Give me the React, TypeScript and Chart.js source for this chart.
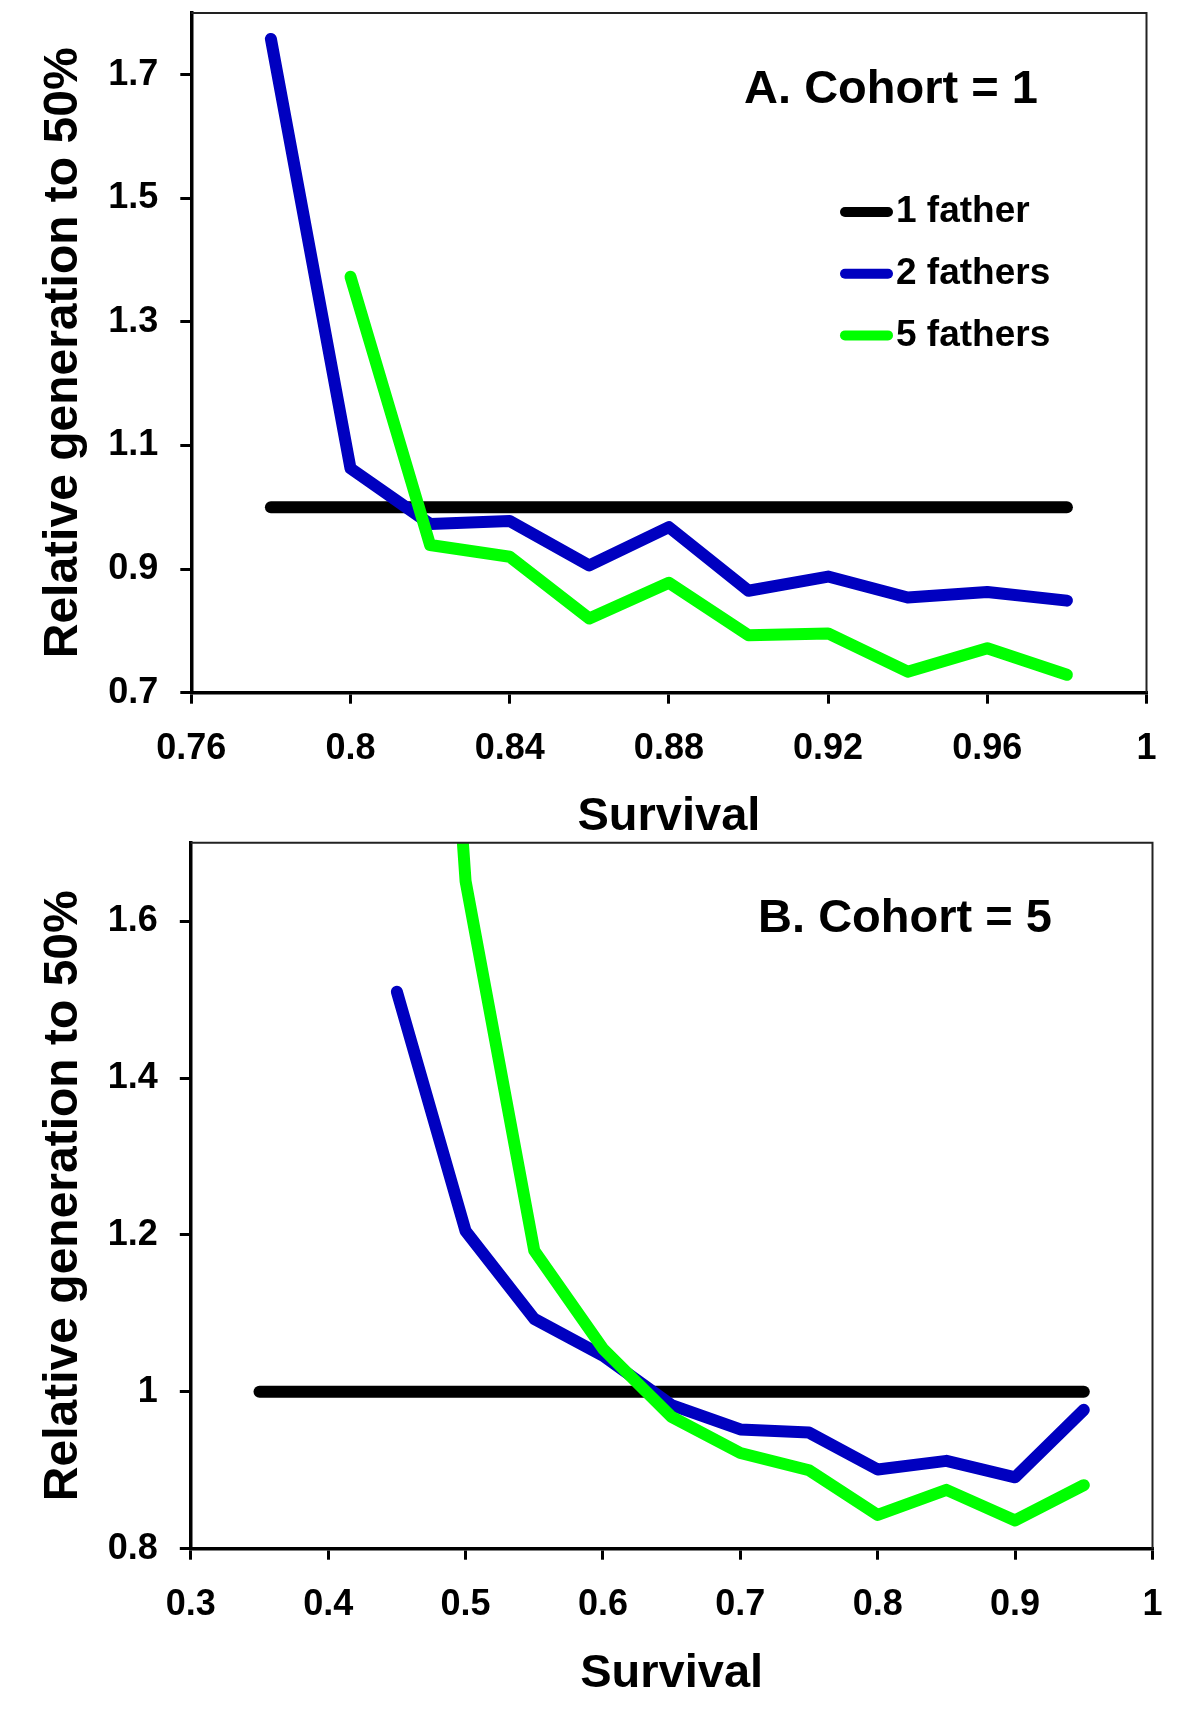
import React, { useEffect, useRef } from "react";
import { Chart, registerables } from "chart.js";

Chart.register(...registerables);

const FONT = "'Liberation Sans', Arial, Helvetica, sans-serif";

// ---------- Data: panel A (Cohort = 1) ----------
const survivalA = [0.78, 0.8, 0.82, 0.84, 0.86, 0.88, 0.9, 0.92, 0.94, 0.96, 0.98];
const oneFatherA = [1, 1, 1, 1, 1, 1, 1, 1, 1, 1, 1];
const twoFathersA = [1.758, 1.063, 0.973, 0.978, 0.906, 0.968, 0.865, 0.888, 0.854, 0.863, 0.849];
const fiveFathersA = [null, 1.373, 0.939, 0.92, 0.82, 0.878, 0.793, 0.796, 0.734, 0.772, 0.729];
const xTicksA = [0.76, 0.8, 0.84, 0.88, 0.92, 0.96, 1];
const yTicksA = [0.7, 0.9, 1.1, 1.3, 1.5, 1.7];

// ---------- Data: panel B (Cohort = 5) ----------
const survivalB = [0.35, 0.4, 0.45, 0.5, 0.55, 0.6, 0.65, 0.7, 0.75, 0.8, 0.85, 0.9, 0.95];
const oneFatherB = [1, 1, 1, 1, 1, 1, 1, 1, 1, 1, 1, 1, 1];
const twoFathersB = [null, null, 1.51, 1.205, 1.093, 1.046, 0.983, 0.952, 0.948, 0.901, 0.912, 0.891, 0.977];
const fiveFathersB = [null, null, 2.9, 1.651, 1.18, 1.055, 0.968, 0.922, 0.9, 0.843, 0.875, 0.836, 0.881];
const xTicksB = [0.3, 0.4, 0.5, 0.6, 0.7, 0.8, 0.9, 1];
const yTicksB = [0.8, 1, 1.2, 1.4, 1.6];

const seriesLabels = ["1 father", "2 fathers", "5 fathers"];
const seriesColors = ["#000000", "#0000C0", "#00FF00"];

const xTitle = "Survival";
const yTitle = "Relative generation to 50%";

function fmt(v: number) {
  return String(parseFloat(Number(v).toFixed(4)));
}

function pts(xs: number[], ys: (number | null)[]) {
  const out: { x: number; y: number }[] = [];
  xs.forEach((x, i) => {
    const y = ys[i];
    if (y !== null && y !== undefined) out.push({ x, y });
  });
  return out;
}

const panelDecor = {
  id: "panelDecor",
  afterDraw(chart: any, _args: any, opts: any) {
    const ctx = chart.ctx;
    const a = chart.chartArea;
    ctx.save();
    // thin top / right frame
    ctx.strokeStyle = "#222";
    ctx.lineWidth = 2;
    ctx.beginPath();
    ctx.moveTo(a.left, a.top);
    ctx.lineTo(a.right, a.top);
    ctx.lineTo(a.right, a.bottom);
    ctx.stroke();
    // panel title
    ctx.fillStyle = "#000";
    ctx.font = `bold 47px ${FONT}`;
    ctx.textAlign = "center";
    ctx.textBaseline = "alphabetic";
    ctx.fillText(opts.text, opts.x, opts.y);
    // legend
    if (opts.legend) {
      const L = opts.legend;
      chart.data.datasets.forEach((ds: any, i: number) => {
        const y = L.y0 + i * L.dy;
        ctx.strokeStyle = ds.borderColor;
        ctx.lineWidth = 10;
        ctx.lineCap = "round";
        ctx.beginPath();
        ctx.moveTo(L.x0, y);
        ctx.lineTo(L.x1, y);
        ctx.stroke();
        ctx.fillStyle = "#000";
        ctx.font = `bold 37px ${FONT}`;
        ctx.textAlign = "left";
        ctx.textBaseline = "middle";
        ctx.fillText(ds.label, L.tx, y);
      });
    }
    ctx.restore();
  },
};

type Panel = {
  W: number;
  H: number;
  area: { left: number; top: number; right: number; bottom: number };
  xs: number[];
  series: (number | null)[][];
  xMin: number;
  xMax: number;
  yMin: number;
  yMax: number;
  xTicks: number[];
  yTicks: number[];
  xTitlePad: number;
  yTitlePad: number;
  decor: any;
};

function makeConfig(p: Panel): any {
  const tickFont = { family: FONT, size: 36, weight: "bold" as const };
  const titleFont = { family: FONT, size: 47, weight: "bold" as const };
  const grid = {
    drawOnChartArea: false,
    drawTicks: true,
    tickLength: 11,
    tickWidth: 3,
    tickColor: "#000",
    color: "#000",
    lineWidth: 3,
  };
  const border = { display: true, color: "#000", width: 3.5 };
  return {
    type: "line",
    data: {
      datasets: p.series.map((ys, i) => ({
        label: seriesLabels[i],
        data: pts(p.xs, ys),
        borderColor: seriesColors[i],
        backgroundColor: seriesColors[i],
        borderWidth: 12,
        pointRadius: 0,
        pointHoverRadius: 0,
        tension: 0,
        fill: false,
        borderCapStyle: "round",
        borderJoinStyle: "round",
        clip: 0,
        order: 3 - i,
      })),
    },
    options: {
      animation: false,
      responsive: false,
      devicePixelRatio: 1,
      events: [],
      layout: {
        padding: { left: 0, top: p.area.top, right: p.W - p.area.right, bottom: 0 },
      },
      plugins: {
        legend: { display: false },
        tooltip: { enabled: false },
        panelDecor: p.decor,
      },
      scales: {
        x: {
          type: "linear",
          min: p.xMin,
          max: p.xMax,
          afterBuildTicks: (s: any) => {
            s.ticks = p.xTicks.map((v) => ({ value: v }));
          },
          afterFit: (s: any) => {
            s.height = p.H - p.area.bottom;
            s.paddingLeft = 0;
            s.paddingRight = 0;
          },
          ticks: {
            autoSkip: false,
            maxRotation: 0,
            minRotation: 0,
            padding: 24,
            color: "#000",
            font: tickFont,
            callback: (v: any) => fmt(v),
          },
          grid,
          border,
          title: {
            display: true,
            text: xTitle,
            color: "#000",
            font: titleFont,
            padding: { top: 0, bottom: p.xTitlePad },
          },
        },
        y: {
          type: "linear",
          min: p.yMin,
          max: p.yMax,
          afterBuildTicks: (s: any) => {
            s.ticks = p.yTicks.map((v) => ({ value: v }));
          },
          afterFit: (s: any) => {
            s.width = p.area.left;
            s.paddingTop = 0;
            s.paddingBottom = 0;
          },
          ticks: {
            autoSkip: false,
            padding: 22,
            color: "#000",
            font: tickFont,
            callback: (v: any) => fmt(v),
          },
          grid,
          border,
          title: {
            display: true,
            text: yTitle,
            color: "#000",
            font: { family: FONT, size: 48, weight: "bold" as const },
            padding: { top: p.yTitlePad, bottom: 0 },
          },
        },
      },
    },
    plugins: [panelDecor],
  };
}

const panelA: Panel = {
  W: 1200,
  H: 860,
  area: { left: 191.3, top: 13, right: 1146.5, bottom: 692.7 },
  xs: survivalA,
  series: [oneFatherA, twoFathersA, fiveFathersA],
  xMin: 0.76,
  xMax: 1,
  yMin: 0.7,
  yMax: 1.8,
  xTicks: xTicksA,
  yTicks: yTicksA,
  xTitlePad: 15,
  yTitlePad: 35,
  decor: {
    text: "A. Cohort = 1",
    x: 891,
    y: 103,
    legend: { x0: 845, x1: 888, tx: 896, y0: 212, dy: 61.7 },
  },
};

const panelB: Panel = {
  W: 1200,
  H: 884,
  area: { left: 190.8, top: 12.7, right: 1152.5, bottom: 718.7 },
  xs: survivalB,
  series: [oneFatherB, twoFathersB, fiveFathersB],
  xMin: 0.3,
  xMax: 1,
  yMin: 0.8,
  yMax: 1.7,
  xTicks: xTicksB,
  yTicks: yTicksB,
  xTitlePad: 12,
  yTitlePad: 35,
  decor: { text: "B. Cohort = 5", x: 905, y: 101.5, legend: null },
};

function ChartPanel({ panel, top }: { panel: Panel; top: number }) {
  const ref = useRef<HTMLCanvasElement | null>(null);
  useEffect(() => {
    if (!ref.current) return;
    const chart = new Chart(ref.current, makeConfig(panel));
    return () => chart.destroy();
  }, [panel]);
  return (
    <div style={{ position: "absolute", left: 0, top, width: panel.W, height: panel.H }}>
      <canvas ref={ref} width={panel.W} height={panel.H} style={{ display: "block" }} />
    </div>
  );
}

export default function App() {
  return (
    <div
      style={{
        position: "absolute",
        left: 0,
        top: 0,
        width: 1200,
        height: 1714,
        background: "#ffffff",
        overflow: "hidden",
      }}
    >
      <ChartPanel panel={panelA} top={0} />
      <ChartPanel panel={panelB} top={830} />
    </div>
  );
}
